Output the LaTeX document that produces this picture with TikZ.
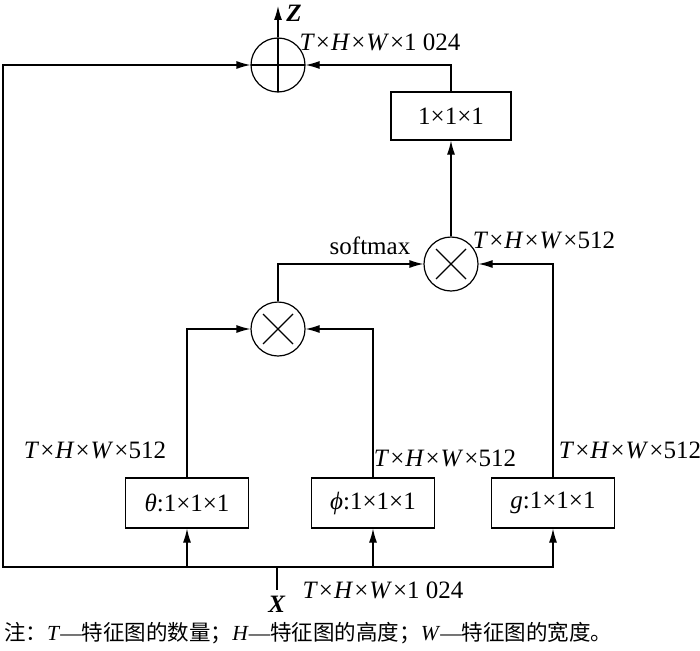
\documentclass[tikz,border=0pt]{standalone}
\usepackage{fontspec}
\setmainfont{Liberation Serif}
\newfontfamily\cjk{Noto Sans CJK SC}
\usetikzlibrary{arrows.meta}
\newcommand{\shp}[1]{\textit{T}\kern1pt×\kern1pt\textit{H}\kern1pt×\kern1pt\textit{W}\kern1pt×#1}

\tikzset{
  opbox/.style={draw, line width=1.2pt, minimum width=123pt, minimum height=50pt, font=\fontsize{25}{30}\selectfont},
  oplus/.style={draw, circle, line width=1.2pt, minimum size=54pt, inner sep=0pt,
    path picture={\draw[line width=1.2pt] (path picture bounding box.west) -- (path picture bounding box.east)
      (path picture bounding box.north) -- (path picture bounding box.south);}},
  otimes/.style={draw, circle, line width=1.2pt, minimum size=54pt, inner sep=0pt,
    path picture={\draw[line width=1.2pt]
      ([shift={(-15pt,-15pt)}]path picture bounding box.center) -- ([shift={(15pt,15pt)}]path picture bounding box.center)
      ([shift={(-15pt,15pt)}]path picture bounding box.center) -- ([shift={(15pt,-15pt)}]path picture bounding box.center);}},
  flow/.style={line width=1.2pt, -{Latex[length=14pt,width=8pt]}},
  dim/.style={font=\fontsize{25}{30}\selectfont, inner sep=0pt}
}

\begin{document}
\begin{tikzpicture}[x=1pt, y=-1pt]
\useasboundingbox (0,0) rectangle (700,650);
% 1. operators and convolution boxes
\node[oplus] (sum) at (278,65) {};
\node[opbox, minimum width=120pt, minimum height=48pt] (conv) at (451,116) {1×1×1};
\node[otimes] (mulA) at (451,264) {};
\node[otimes] (mulB) at (278,329) {};
\node[opbox] (theta) at (187,503) {\textit{θ}:1×1×1};
\node[opbox] (phi) at (373,503) {\textit{ϕ}:1×1×1};
\node[opbox] (gbox) at (553,503) {\textit{g}:1×1×1};
% 2. input bus, output and skip path
\coordinate (xin) at (277,567);
\coordinate (xtail) at (277,590);
\coordinate (lc) at (3,567);
\coordinate (ztip) at (278,6);
\draw[line width=1.2pt] (xin) -- (xtail);
\draw[flow] (xin) -| (theta.south);
\draw[flow] (xin) -| (phi.south);
\draw[flow] (xin) -| (gbox.south);
\draw[flow] (xin) -- (lc) |- (sum.west);
\draw[flow] (sum.north) -- (ztip);
% 3. attention path
\draw[flow] (theta.north) |- (mulB.west);
\draw[flow] (phi.north) |- (mulB.east);
\draw[flow] (mulB.north) |- (mulA.west);
\draw[flow] (gbox.north) |- (mulA.east);
\draw[flow] (mulA.north) -- (conv.south);
\draw[flow] (conv.north) |- (sum.east);
% 4. labels
\node[dim] (zlab) at (294,13) {\textbf{\textit{Z}}};
\node[dim] (xlab) at (277,604) {\textbf{\textit{X}}};
\node[dim] (dtop) at (380,42) {\shp{1 024}};
\node[dim] (dbot) at (383,590) {\shp{1 024}};
\node[dim] (dmul) at (544,240) {\shp{512}};
\node[dim] (dtheta) at (95,450) {\shp{512}};
\node[dim] (dphi) at (445,458) {\shp{512}};
\node[dim] (dg) at (630,450) {\shp{512}};
\node[dim] (smax) at (370,246) {softmax};
\node[font=\fontsize{21.5}{26}\selectfont, anchor=west, inner sep=0pt] (note) at (4,633)
  {{\cjk 注：}\textit{T}—{\cjk 特征图的数量；}\textit{H}—{\cjk 特征图的高度；}\textit{W}—{\cjk 特征图的宽度。}};
\end{tikzpicture}
\end{document}
